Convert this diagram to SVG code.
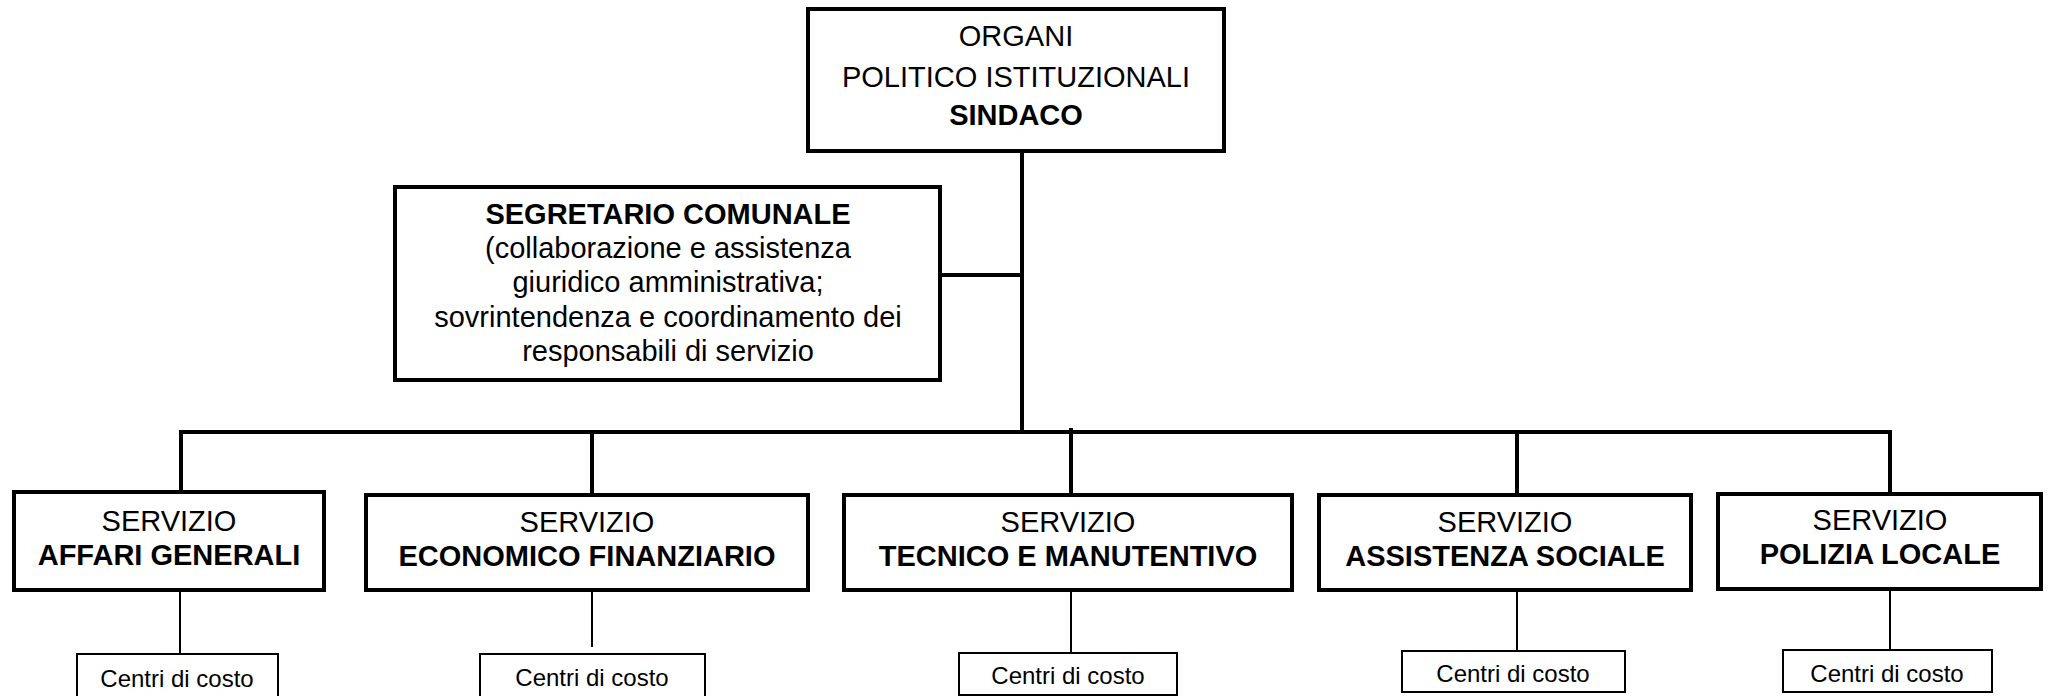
<svg xmlns="http://www.w3.org/2000/svg" width="2049" height="696" viewBox="0 0 2049 696">
<style>
text{font-family:"Liberation Sans",Arial,sans-serif;fill:#000;text-anchor:middle}
.t{font-size:29px}
.b{font-weight:bold}
.s{font-size:24px}
.box{fill:#fff;stroke:#000;stroke-width:4}
.cbox{fill:#fff;stroke:#000;stroke-width:2}
.thick{stroke:#000;stroke-width:4;fill:none}
.thin{stroke:#000;stroke-width:2;fill:none}
</style>
<rect width="2049" height="696" fill="#fff"/>
<g id="connectors">
<line class="thick" x1="1022" y1="153" x2="1022" y2="433"/>
<line class="thick" x1="940" y1="275" x2="1022" y2="275"/>
<polyline class="thick" points="181,492 181,432 1890,432 1890,492"/>
<line class="thick" x1="592" y1="432" x2="592" y2="493"/>
<line class="thick" x1="1071" y1="428" x2="1071" y2="493"/>
<line class="thick" x1="1517" y1="432" x2="1517" y2="493"/>
<line class="thin" x1="180" y1="592" x2="180" y2="653"/>
<line class="thin" x1="592" y1="592" x2="592" y2="647"/>
<line class="thin" x1="1071" y1="592" x2="1071" y2="652"/>
<line class="thin" x1="1517" y1="592" x2="1517" y2="650"/>
<line class="thin" x1="1890" y1="591" x2="1890" y2="649"/>
</g>
<g id="organi">
<rect class="box" x="808" y="9" width="416" height="142"/>
<text class="t" x="1016" y="46">ORGANI</text>
<text class="t" x="1016" y="87">POLITICO ISTITUZIONALI</text>
<text class="t b" x="1016" y="125">SINDACO</text>
</g>
<g id="segretario">
<rect class="box" x="395" y="187" width="545" height="193"/>
<text class="t b" x="668" y="224">SEGRETARIO COMUNALE</text>
<text class="t" x="668" y="258">(collaborazione e assistenza</text>
<text class="t" x="668" y="292">giuridico amministrativa;</text>
<text class="t" x="668" y="327">sovrintendenza e coordinamento dei</text>
<text class="t" x="668" y="361">responsabili di servizio</text>
</g>
<g id="srv-affari">
<rect class="box" x="14" y="492" width="310" height="98"/>
<text class="t" x="169" y="531">SERVIZIO</text>
<text class="t b" x="169" y="565">AFFARI GENERALI</text>
</g>
<g id="srv-economico">
<rect class="box" x="366" y="495" width="442" height="95"/>
<text class="t" x="587" y="532">SERVIZIO</text>
<text class="t b" x="587" y="566">ECONOMICO FINANZIARIO</text>
</g>
<g id="srv-tecnico">
<rect class="box" x="844" y="495" width="448" height="95"/>
<text class="t" x="1068" y="532">SERVIZIO</text>
<text class="t b" x="1068" y="566">TECNICO E MANUTENTIVO</text>
</g>
<g id="srv-sociale">
<rect class="box" x="1319" y="495" width="372" height="95"/>
<text class="t" x="1505" y="532">SERVIZIO</text>
<text class="t b" x="1505" y="566">ASSISTENZA SOCIALE</text>
</g>
<g id="srv-polizia">
<rect class="box" x="1718" y="494" width="323" height="95"/>
<text class="t" x="1880" y="530">SERVIZIO</text>
<text class="t b" x="1880" y="564">POLIZIA LOCALE</text>
</g>
<g id="cdc-1">
<rect class="cbox" x="77" y="654" width="201" height="50"/>
<text class="s" x="177" y="687">Centri di costo</text>
</g>
<g id="cdc-2">
<rect class="cbox" x="480" y="654" width="225" height="50"/>
<text class="s" x="592" y="686">Centri di costo</text>
</g>
<g id="cdc-3">
<rect class="cbox" x="959" y="653" width="218" height="42"/>
<text class="s" x="1068" y="684">Centri di costo</text>
</g>
<g id="cdc-4">
<rect class="cbox" x="1402" y="651" width="223" height="41"/>
<text class="s" x="1513" y="682">Centri di costo</text>
</g>
<g id="cdc-5">
<rect class="cbox" x="1783" y="650" width="209" height="42"/>
<text class="s" x="1887" y="682">Centri di costo</text>
</g>
</svg>
